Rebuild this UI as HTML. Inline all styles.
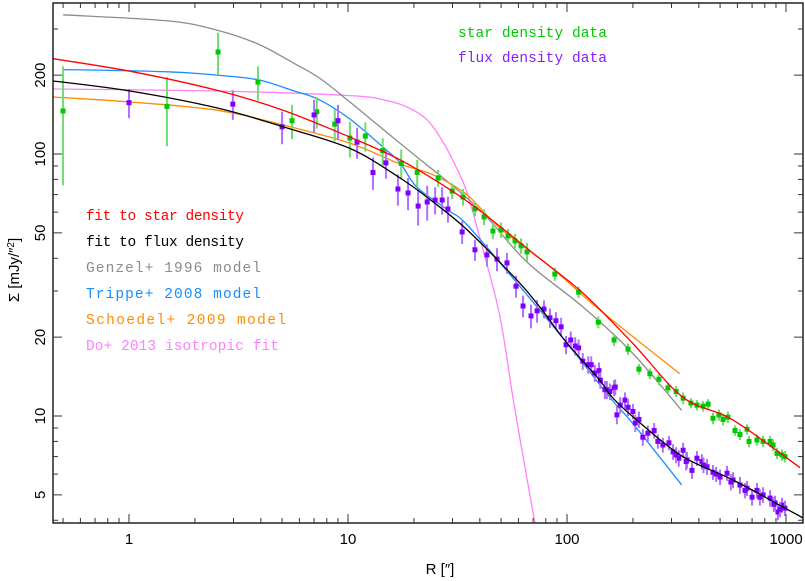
<!DOCTYPE html>
<html><head><meta charset="utf-8">
<style>
html,body{margin:0;padding:0;background:#fff;}
svg{display:block;}
text{font-family:"Liberation Sans",sans-serif;}
.lg{font-family:"Liberation Mono",monospace;font-size:14.5px;}
</style></head>
<body>
<svg id="chart" width="805" height="581" viewBox="0 0 805 581" xmlns="http://www.w3.org/2000/svg">
<g id="marks"></g>
<g id="axes"></g>
<text class="lg" x="458" y="37" fill="#00c800" textLength="149">star density data</text>
<text class="lg" x="458" y="62" fill="#8a1cff" textLength="149">flux density data</text>
<text class="lg" x="86" y="220" fill="#ff0000" textLength="158">fit to star density</text>
<text class="lg" x="86" y="246" fill="#000000" textLength="158">fit to flux density</text>
<text class="lg" x="86" y="272" fill="#8c8c8c" textLength="175">Genzel+ 1996 model</text>
<text class="lg" x="86" y="298" fill="#1a8cff" textLength="175">Trippe+ 2008 model</text>
<text class="lg" x="86" y="324" fill="#ff8c00" textLength="200">Schoedel+ 2009 model</text>
<text class="lg" x="86" y="350" fill="#ff80ff" textLength="193">Do+ 2013 isotropic fit</text>
<text x="440" y="574" font-size="15" text-anchor="middle">R [″]</text>
<text transform="translate(19,270) rotate(-90)" font-size="15" text-anchor="middle">Σ [mJy/″<tspan dy="-5" font-size="10">2</tspan><tspan dy="5">]</tspan></text>
</svg>
<script>
// ---- data ----
const starR=[0.5,1.49,2.55,3.88,5.55,7.2,8.7,10.2,12.0,14.4,17.5,20.7,25.8,29.9,33.5,38.0,41.8,45.9,50.0,53.8,57.9,61.7,65.7,88,113,139,164,190,213,239,263,289,315,339,368,392,418,441,464,494,516,543,585,616,664,678,737,786,846,873,910,959,989];
const starV=[146,152,245,188,134,145,130,115,117,103,92,85,81,72.2,68.5,61.7,57.5,50.8,51.3,48.7,46.6,44.6,42.3,34.8,29.7,22.8,19.5,18.0,15.1,14.5,13.8,12.8,12.4,11.7,11.2,11.0,10.9,11.1,9.8,10.1,9.7,9.9,8.8,8.5,8.9,8.0,8.1,8.0,8.0,7.75,7.2,7.1,7.0];
const starE=[70,45,45,28,20,20,18,18,15,12,12,10,6,5,5,4,4,3.5,3.5,3,3,3,3.5,2,1.5,1.2,1,0.9,0.7,0.7,0.7,0.6,0.6,0.6,0.5,0.5,0.5,0.5,0.5,0.5,0.5,0.5,0.4,0.4,0.4,0.4,0.4,0.4,0.4,0.4,0.35,0.35,0.35];
const fluxR=[1.0,2.98,5.0,7.0,9.0,11.0,13.0,14.9,16.9,18.8,20.9,23.0,25.0,26.9,28.6,33.2,38,43.1,47.9,53.2,58.5,63,68.5,73,78.5,83.6,89,94,99,104,109,113,118,125,129,134,140,142,149,152,157,164,166,169,175,184,190,200,205,213,222,234,250,260,274,292,305,324,339,353,372,392,413,436,464,500,538,573,616,664,700,737,786,846,891,919,959,989,315,350,420,480,560,650,760,880,940];
const fluxV=[157,155,127,141,134,111,85,92.5,73.5,71,63.3,65.6,66.7,66.7,61.7,50.4,43.1,41.2,39.7,38.4,31.3,26.3,24.1,25.2,25.6,23.7,23.1,21.9,18.7,19.5,18.5,18.2,16.2,15.7,15.7,14.6,14.9,13.7,12.6,12.6,12.4,12.8,12.9,10.1,11.0,11.5,10.8,10.4,9.4,9.7,8.3,8.6,8.8,8.0,7.75,7.9,7.3,6.9,7.4,6.8,6.2,6.9,6.7,6.4,6.1,5.85,6.05,5.7,5.45,5.3,4.9,5.2,5.0,4.86,4.66,4.3,4.57,4.45,7.1,6.7,6.5,6.0,5.6,5.2,4.9,4.6,4.4];
const fluxE=[20,20,18,20,20,15,12,12,10,10,10,10,8,8,7,5,4,4,4,3.5,3,2.5,2.5,2.5,2,2,1.8,1.8,1.5,1.5,1.5,1.4,1.2,1.2,1.2,1.1,1.1,1,1,1,0.9,0.9,0.9,0.8,0.8,0.8,0.8,0.7,0.7,0.7,0.6,0.6,0.6,0.5,0.5,0.5,0.5,0.5,0.5,0.5,0.45,0.45,0.45,0.45,0.4,0.4,0.4,0.4,0.4,0.35,0.35,0.35,0.35,0.35,0.3,0.3,0.3,0.3,0.5,0.5,0.45,0.4,0.4,0.35,0.35,0.3,0.3];
const redR=[0.45,1.01,2.52,5.05,10.2,17.3,28.6,41.4,69.8,118,199,338,573,1160];
const redV=[231,207,175,147,116,95,74,59.5,41.9,29.5,19.0,11.8,9.65,6.35];
const blackR=[0.45,1.01,2.52,5.05,10.2,17.3,24.5,35,59.1,75,99.9,141,162,216,338,573,966,1200];
const blackV=[190,174,150,127,105,81,65.6,51.3,33,26.1,19.0,13.7,11.7,9.4,7.0,5.7,4.5,4.08];
const greyR=[0.5,1.51,2.52,3.88,5.55,7.4,10.2,14.5,20.6,28.6,41.4,65.6,118,199,334];
const greyV=[340,322,297,263,224,195,158,124,97.5,78.2,59.5,38.7,26.1,17.4,10.5];
const blueR=[0.5,1.51,2.52,3.88,5.55,7.4,10.2,14.5,17.3,20.6,28.6,35,59.1,99.9,158,199,334];
const blueV=[210,206,200,192,175,161,136,106,92.5,74.8,61.1,53.6,32.2,19.0,11.7,9.4,5.46];
const orangeR=[0.45,1.01,2.52,5.05,10.2,17.3,24.5,35,49.3,83.9,141,327];
const orangeV=[165,158,147,129,110,91.6,83.2,69.8,52.2,37.1,25.4,14.5];
const magR=[0.45,2.52,10.2,15,19,23,27,31,35,41.4,49.4,56.7,63,70,72];
const magV=[177,174,167,160,150,135,112,90,71,43,24,11.7,7,4.27,3.8];
const xTicks=[1,10,100,1000];
const xTickLabels=["1","10","100","1000"];
const yTicks=[5,10,20,50,100,200];
const yTickLabels=["5","10","20","50","100","200"];

// ---- axes ----
const L=53,R=803,T=3,B=523;
const X=r=>129+219*Math.log10(r);
const Y=v=>416-262*(Math.log10(v)-1);
const NS="http://www.w3.org/2000/svg";
const marks=document.getElementById('marks'), axes=document.getElementById('axes');
function mk(tag,parent,attrs){const e=document.createElementNS(NS,tag);for(const k in attrs)e.setAttribute(k,attrs[k]);parent.appendChild(e);return e;}

const defs=mk('defs',marks,{});
const cp=mk('clipPath',defs,{id:'plotclip'});
mk('rect',cp,{x:L,y:T,width:R-L,height:B-T});
const plot=mk('g',marks,{'clip-path':'url(#plotclip)'});

function curve(rs,vs,color,name){
  const P=rs.map((r,i)=>[X(r),Y(vs[i])]);
  let d='M'+P[0][0].toFixed(1)+','+P[0][1].toFixed(1);
  for(let i=0;i<P.length-1;i++){
    const p0=P[Math.max(i-1,0)],p1=P[i],p2=P[i+1],p3=P[Math.min(i+2,P.length-1)];
    const c1=[p1[0]+(p2[0]-p0[0])/6,p1[1]+(p2[1]-p0[1])/6];
    const c2=[p2[0]-(p3[0]-p1[0])/6,p2[1]-(p3[1]-p1[1])/6];
    d+='C'+c1.map(v=>v.toFixed(1)).join(',')+' '+c2.map(v=>v.toFixed(1)).join(',')+' '+p2.map(v=>v.toFixed(1)).join(',');
  }
  const p=mk('path',plot,{d:d,fill:'none',stroke:color,'stroke-width':1.3});
  
  
}
function points(rs,vs,es,cBar,cPt,name){
  const g=mk('g',plot,{});
  
  
  rs.forEach((r,i)=>{
    const x=X(r),lo=Math.max(vs[i]-es[i],1);
    mk('line',g,{x1:x,x2:x,y1:Y(vs[i]+es[i]),y2:Y(lo),stroke:cBar,'stroke-width':2});
    const s=mk('rect',g,{x:x-2.5,y:Y(vs[i])-2.5,width:5,height:5,fill:cPt});
    
    
  });
}
curve(magR,magV,'#ff80ff','do-2013-curve');
curve(greyR,greyV,'#8c8c8c','genzel-1996-curve');
curve(blueR,blueV,'#1a8cff','trippe-2008-curve');
curve(orangeR,orangeV,'#ff8c00','schoedel-2009-curve');
points(starR,starV,starE,'#6fdc6f','#00c800','star-density-points');
points(fluxR,fluxV,fluxE,'#b070ff','#8000ff','flux-density-points');
curve(redR,redV,'#ff0000','fit-star-density-curve');
curve(blackR,blackV,'#000000','fit-flux-density-curve');

const fr=mk('rect',axes,{x:L,y:T,width:R-L,height:B-T,fill:'none',stroke:'#000','stroke-width':1.3});


for(let dec=-1;dec<=3;dec++){for(let m=1;m<10;m++){const r=m*Math.pow(10,dec);const x=X(r);if(x<L||x>R)continue;const len=m===1?9:5;
  mk('line',axes,{x1:x,x2:x,y1:B,y2:B-len,stroke:'#333','stroke-width':1});
  mk('line',axes,{x1:x,x2:x,y1:T,y2:T+len,stroke:'#333','stroke-width':1});}}
xTicks.forEach((t,i)=>{const e=mk('text',axes,{x:X(t),y:544,'font-size':15,'text-anchor':'middle'});e.textContent=xTickLabels[i];
  });
for(let dec=0;dec<=2;dec++){for(let m=1;m<10;m++){const v=m*Math.pow(10,dec);const y=Y(v);if(y<T||y>B)continue;const len=(m===1||m===2||m===5)?9:5;
  mk('line',axes,{x1:L,x2:L+len,y1:y,y2:y,stroke:'#333','stroke-width':1});
  mk('line',axes,{x1:R,x2:R-len,y1:y,y2:y,stroke:'#333','stroke-width':1});}}
yTicks.forEach((t,i)=>{const y=Y(t);const e=mk('text',axes,{transform:`translate(45,${y}) rotate(-90)`,'font-size':15,'text-anchor':'middle'});e.textContent=yTickLabels[i];
  });
</script>
</body></html>
